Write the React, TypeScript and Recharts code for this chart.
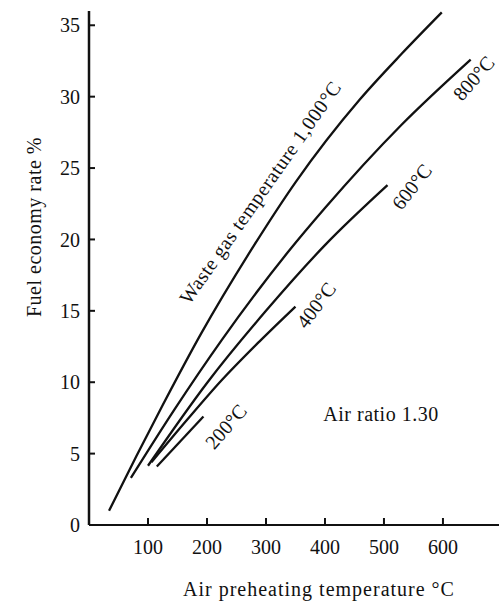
import React from 'react';
import { LineChart, Line, XAxis, YAxis, ReferenceDot } from 'recharts';

// tick values
const X_TICKS = [100, 200, 300, 400, 500, 600];
const Y_TICKS = [0, 5, 10, 15, 20, 25, 30, 35];

// fuel economy rate (%) vs air preheating temperature, per waste gas temperature
const GAS_1000 = [
  { x: 34, y: 1.0 },
  { x: 80, y: 4.8 },
  { x: 125, y: 8.4 },
  { x: 190, y: 13.4 },
  { x: 280, y: 19.6 },
  { x: 350, y: 24.0 },
  { x: 459, y: 29.8 },
  { x: 530, y: 33.0 },
  { x: 598, y: 35.9 }
];

const GAS_800 = [
  { x: 71, y: 3.3 },
  { x: 145, y: 8.1 },
  { x: 224, y: 12.9 },
  { x: 337, y: 19.1 },
  { x: 400, y: 22.2 },
  { x: 529, y: 28.0 },
  { x: 647, y: 32.6 }
];

const GAS_600 = [
  { x: 100, y: 4.15 },
  { x: 201, y: 10.0 },
  { x: 300, y: 15.0 },
  { x: 400, y: 19.6 },
  { x: 506, y: 23.8 }
];

const GAS_400 = [
  { x: 106, y: 4.4 },
  { x: 167, y: 7.4 },
  { x: 224, y: 10.1 },
  { x: 290, y: 12.9 },
  { x: 350, y: 15.3 }
];

const GAS_200 = [
  { x: 115, y: 4.1 },
  { x: 194, y: 7.6 }
];

const CURVE_LABELS = [
  { text: 'Waste gas temperature 1,000°C', x: 290, y: 23.3, angle: -55, spacing: 0.5 },
  { text: '800°C', x: 652, y: 31.3, angle: -49, spacing: 0 },
  { text: '600°C', x: 547, y: 23.7, angle: -52, spacing: 0 },
  { text: '400°C', x: 385, y: 15.4, angle: -53, spacing: 0 },
  { text: '200°C', x: 232, y: 6.9, angle: -49, spacing: 0 },
  { text: 'Air ratio 1.30', x: 495, y: 7.74, angle: 0, spacing: 0.5 }
];

const FONT = '"Liberation Serif", "DejaVu Serif", serif';
const INK = '#111';

const rotatedText = (text: string, angle: number, spacing: number) => (props: any) => (
  <text
    x={props.cx}
    y={props.cy}
    transform={`rotate(${angle}, ${props.cx}, ${props.cy})`}
    textAnchor="middle"
    dominantBaseline="central"
    fontFamily={FONT}
    fontSize={20}
    letterSpacing={spacing}
    fill={INK}
  >
    {text}
  </text>
);

const xTitle = (props: any) => {
  const vb = props.viewBox || { x: 89, y: 525, width: 410, height: 80 };
  return (
    <text
      x={vb.x + vb.width / 2 + 25}
      y={vb.y + 64}
      textAnchor="middle"
      dominantBaseline="central"
      fontFamily={FONT}
      fontSize={20}
      letterSpacing={1}
      fill={INK}
    >
      Air preheating temperature °C
    </text>
  );
};

const yTitle = (props: any) => {
  const vb = props.viewBox || { x: 0, y: 11, width: 89, height: 514 };
  const cx = vb.x + 34;
  const cy = vb.y + vb.height / 2 - 41;
  return (
    <text
      x={cx}
      y={cy}
      transform={`rotate(-90, ${cx}, ${cy})`}
      textAnchor="middle"
      dominantBaseline="central"
      fontFamily={FONT}
      fontSize={20}
      letterSpacing={0.5}
      fill={INK}
    >
      Fuel economy rate %
    </text>
  );
};

const SERIES = [GAS_1000, GAS_800, GAS_600, GAS_400, GAS_200];

export default function App() {
  return (
    <div style={{ position: 'absolute', left: 0, top: 0, width: 500, height: 605, background: '#fff' }}>
      <LineChart
        width={500}
        height={605}
        margin={{ top: 11, right: 1, left: 0, bottom: 0 }}
      >
        <XAxis
          type="number"
          dataKey="x"
          domain={[0, 695]}
          ticks={X_TICKS}
          interval={0}
          height={80}
          tickSize={-7}
          tickMargin={22}
          axisLine={{ stroke: INK, strokeWidth: 2 }}
          tickLine={{ stroke: INK, strokeWidth: 2 }}
          tick={{ fill: INK, fontSize: 20, fontFamily: FONT }}
          label={xTitle}
        />
        <YAxis
          type="number"
          dataKey="y"
          domain={[0, 36]}
          ticks={Y_TICKS}
          interval={0}
          width={89}
          tickSize={-6}
          tickMargin={15}
          axisLine={{ stroke: INK, strokeWidth: 2.5 }}
          tickLine={{ stroke: INK, strokeWidth: 2 }}
          tick={{ fill: INK, fontSize: 20, fontFamily: FONT }}
          label={yTitle}
        />
        {SERIES.map((s, i) => (
          <Line
            key={i}
            data={s}
            dataKey="y"
            type="monotone"
            stroke={INK}
            strokeWidth={2.3}
            dot={false}
            activeDot={false}
            isAnimationActive={false}
          />
        ))}
        {CURVE_LABELS.map((l, i) => (
          <ReferenceDot
            key={i}
            x={l.x}
            y={l.y}
            r={0}
            ifOverflow="visible"
            shape={rotatedText(l.text, l.angle, l.spacing)}
          />
        ))}
      </LineChart>
    </div>
  );
}
